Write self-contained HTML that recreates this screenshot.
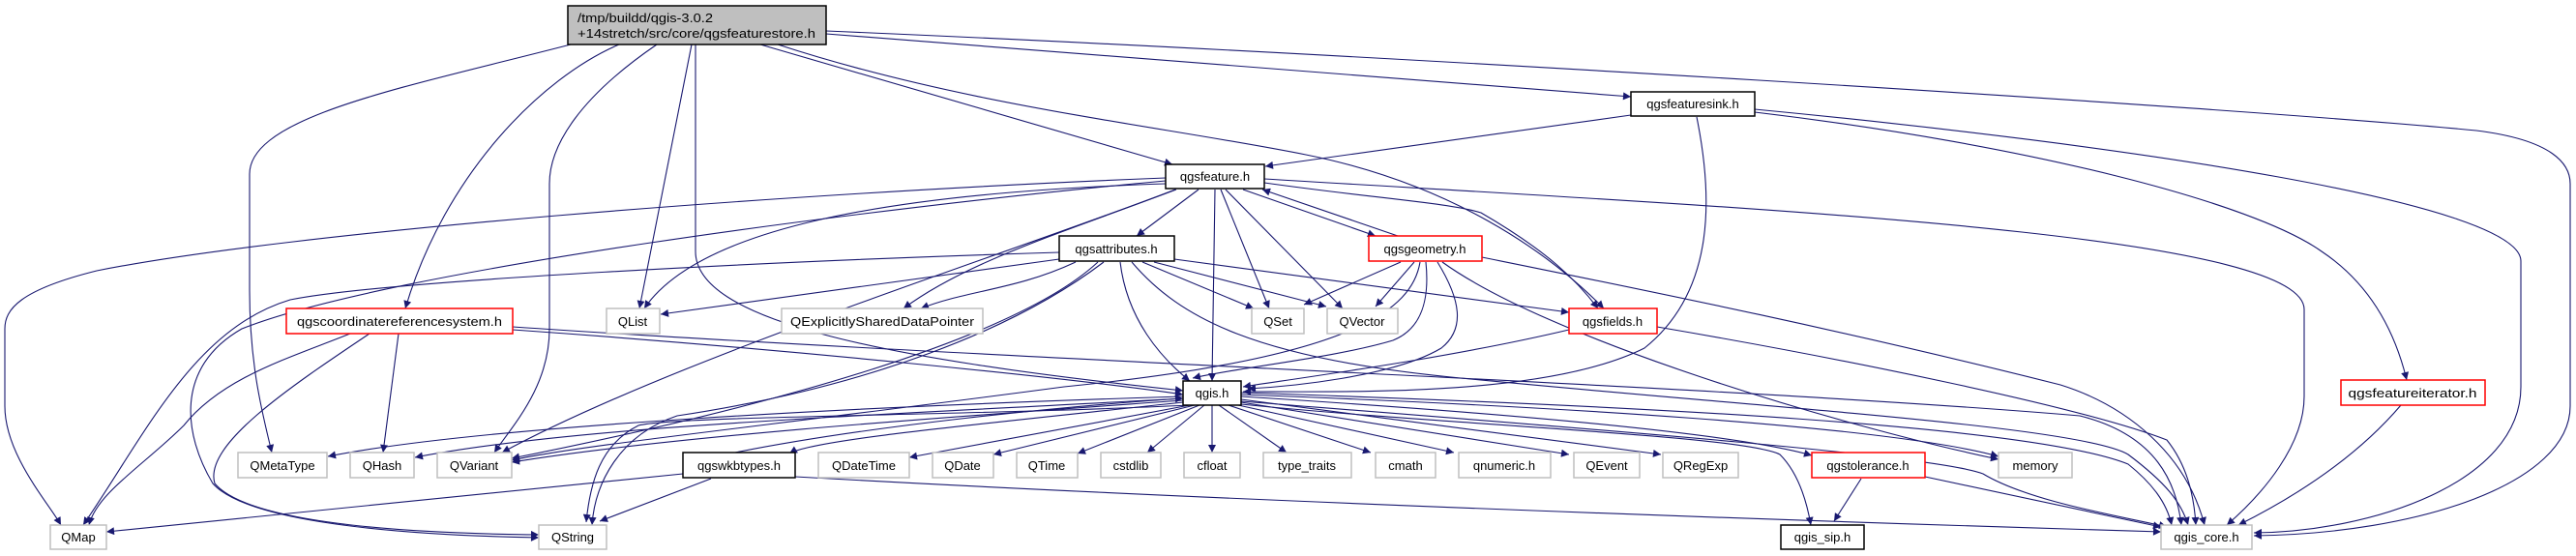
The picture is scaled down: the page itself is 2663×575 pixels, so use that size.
<!DOCTYPE html>
<html><head><meta charset="utf-8"><style>
html,body{margin:0;padding:0;background:#fff;}
svg{display:block;}
text{font-family:"Liberation Sans","DejaVu Sans",sans-serif;font-size:13px;fill:#000;}
.e{fill:none;stroke:#191970;stroke-width:1.1;marker-end:url(#a);}
.g{fill:#fff;stroke:#bfbfbf;stroke-width:1.5;}
.r{fill:#fff;stroke:#ff0000;stroke-width:1.5;}
.b{fill:#fff;stroke:#000;stroke-width:1.5;}
</style></head><body>
<svg width="2663" height="575" viewBox="0 0 2663 575" xmlns="http://www.w3.org/2000/svg">
<defs><marker id="a" viewBox="0 0 10 10" refX="10" refY="5" markerWidth="10" markerHeight="8" markerUnits="userSpaceOnUse" orient="auto"><path d="M0,0 L10,5 L0,10 z" fill="#191970"/></marker></defs>

<!-- root edges -->
<path class="e" d="M590,46 C420,90 258,120 258,180 L258,300 C258,380 272,430 281,468"/>
<path class="e" d="M640,46 C560,80 460,180 419,319"/>
<path class="e" d="M679,46 C600,100 568,150 568,190 L568,340 C568,400 530,440 511,468"/>
<path class="e" d="M715,46 L661,319"/>
<path class="e" d="M719,46 L719,260 C719,330 900,370 1223,404"/>
<path class="e" d="M786,46 L1212,170"/>
<path class="e" d="M804,46 C1000,110 1200,130 1350,160 C1500,190 1600,260 1658,319"/>
<path class="e" d="M854,35 L1686,100"/>
<path class="e" d="M854,32 C1400,55 2300,110 2560,135 C2640,145 2657,170 2657,190 L2657,420 C2657,500 2500,552 2330,554"/>

<!-- qgsfeaturesink -->
<path class="e" d="M1686,119 L1308,172"/>
<path class="e" d="M1754,121 C1770,200 1775,300 1700,360 C1600,410 1400,405 1285,405"/>
<path class="e" d="M1814,116 C2100,150 2330,210 2400,260 C2460,300 2480,360 2488,393"/>
<path class="e" d="M1814,113 C2200,150 2606,210 2606,270 L2606,400 C2606,500 2450,550 2330,551"/>

<!-- qgsfeature -->
<path class="e" d="M1205,184 C800,200 300,240 100,280 C20,300 5,320 5,340 L5,420 C5,470 50,520 63,543"/>
<path class="e" d="M1205,187 C900,215 400,280 250,340 C180,380 190,450 220,500 C260,545 450,554 557,556"/>
<path class="e" d="M1205,190 C900,200 720,240 666,319"/>
<path class="e" d="M1215,196 C1050,260 700,370 519,468"/>
<path class="e" d="M1216,196 C1100,240 1000,270 934,319"/>
<path class="e" d="M1239,196 L1175,244"/>
<path class="e" d="M1256,196 L1253,394"/>
<path class="e" d="M1262,196 L1312,319"/>
<path class="e" d="M1267,196 L1388,319"/>
<path class="e" d="M1285,196 L1422,244"/>
<path class="e" d="M1445,244 L1305,196"/>
<path class="e" d="M1307,189 C1420,205 1500,210 1531,220 C1600,260 1630,290 1652,319"/>
<path class="e" d="M1307,185 C1800,215 2382,240 2382,320 L2382,410 C2382,460 2340,510 2302,543"/>

<!-- qgsattributes -->
<path class="e" d="M1095,261 C800,270 400,290 300,310 C200,340 150,450 86,543"/>
<path class="e" d="M1095,268 L683,325"/>
<path class="e" d="M1112,271 C1050,300 1000,300 952,319"/>
<path class="e" d="M1141,271 C1050,340 900,400 700,430 C640,450 615,500 612,543"/>
<path class="e" d="M1135,271 C1050,350 800,420 529,474"/>
<path class="e" d="M1181,271 L1296,319"/>
<path class="e" d="M1193,271 L1371,317"/>
<path class="e" d="M1158,271 C1165,330 1200,370 1230,394"/>
<path class="e" d="M1214,268 L1622,323"/>
<path class="e" d="M1170,271 C1220,330 1300,370 1500,390 C1800,420 2150,440 2200,470 C2240,500 2255,520 2262,543"/>

<!-- qgsgeometry -->
<path class="e" d="M1448,271 L1348,315"/>
<path class="e" d="M1462,271 L1422,317"/>
<path class="e" d="M1474,271 C1478,310 1470,340 1440,352 C1380,370 1280,380 1233,391"/>
<path class="e" d="M1486,271 C1510,310 1515,340 1490,360 C1440,390 1330,400 1290,402"/>
<path class="e" d="M1468,271 C1460,320 1400,370 1100,400 C800,440 600,460 529,476"/>
<path class="e" d="M1491,271 C1600,350 1900,440 2066,475"/>
<path class="e" d="M1532,266 C1700,300 1900,340 2130,398 C2200,420 2260,470 2279,543"/>

<!-- qgsfields -->
<path class="e" d="M1622,341 C1500,370 1350,390 1285,400"/>
<path class="e" d="M1713,338 C1900,370 2150,420 2240,455 C2260,480 2268,510 2270,543"/>

<!-- qgscrs -->
<path class="e" d="M362,345 C300,370 230,390 190,440 C150,480 100,510 92,543"/>
<path class="e" d="M382,345 C300,400 210,460 222,500 C260,545 450,552 557,553"/>
<path class="e" d="M412,345 L396,468"/>
<path class="e" d="M530,341 C800,360 1100,390 1223,408"/>
<path class="e" d="M530,338 C1000,370 1800,400 2150,430 C2230,450 2250,500 2255,543"/>

<!-- qgis.h outgoing -->
<path class="e" d="M1223,410 C900,420 500,440 339,472"/>
<path class="e" d="M1223,412 C900,430 600,440 429,473"/>
<path class="e" d="M1223,414 C1000,430 700,450 529,478"/>
<path class="e" d="M1230,419 C1000,430 700,430 660,440 C620,460 610,500 606,540"/>
<path class="e" d="M1223,416 C1000,440 840,455 816,469"/>
<path class="e" d="M1230,419 L940,473"/>
<path class="e" d="M1235,419 L1027,470"/>
<path class="e" d="M1240,419 L1114,469"/>
<path class="e" d="M1245,419 L1186,468"/>
<path class="e" d="M1253,419 L1253,468"/>
<path class="e" d="M1260,419 L1330,468"/>
<path class="e" d="M1270,419 L1417,468"/>
<path class="e" d="M1280,419 L1503,468"/>
<path class="e" d="M1283,416 L1622,470"/>
<path class="e" d="M1283,413 L1717,470"/>
<path class="e" d="M1283,410 C1600,430 1800,450 1873,471"/>
<path class="e" d="M1283,408 C1600,420 1950,440 2066,472"/>
<path class="e" d="M1283,418 C1500,440 1800,450 1840,470 C1860,490 1868,520 1872,543"/>
<path class="e" d="M1283,406 C1700,420 2100,440 2200,480 C2225,500 2240,520 2245,543"/>
<path class="e" d="M1283,415 C1600,440 2000,470 2050,490 C2100,520 2200,535 2240,545"/>

<!-- qgswkbtypes -->
<path class="e" d="M760,468 C900,440 1100,420 1223,412"/>
<path class="e" d="M706,490 L110,550"/>
<path class="e" d="M735,495 L620,539"/>
<path class="e" d="M822,493 C1300,520 1900,540 2234,550"/>

<!-- qgstolerance / iterator -->
<path class="e" d="M1924,495 L1896,539"/>
<path class="e" d="M1990,493 L2234,545"/>
<path class="e" d="M2482,419 C2430,480 2360,520 2314,543"/>

<!-- nodes -->
<rect x="587" y="6" width="267" height="40" fill="#bfbfbf" stroke="#000" stroke-width="1.5"/>
<text x="597" y="23" textLength="140" lengthAdjust="spacingAndGlyphs">/tmp/buildd/qgis-3.0.2</text>
<text x="597" y="39" textLength="246" lengthAdjust="spacingAndGlyphs">+14stretch/src/core/qgsfeaturestore.h</text>

<rect class="b" x="1686" y="95" width="128" height="25"/><text x="1750" y="112" text-anchor="middle">qgsfeaturesink.h</text>
<rect class="b" x="1205" y="170" width="102" height="25"/><text x="1256" y="187" text-anchor="middle">qgsfeature.h</text>
<rect class="b" x="1095" y="244" width="119" height="26"/><text x="1154" y="262" text-anchor="middle">qgsattributes.h</text>
<rect class="r" x="1415" y="244" width="117" height="26"/><text x="1473" y="262" text-anchor="middle">qgsgeometry.h</text>

<rect class="r" x="296" y="319" width="234" height="26"/><text x="413" y="337" text-anchor="middle" textLength="212" lengthAdjust="spacingAndGlyphs">qgscoordinatereferencesystem.h</text>
<rect class="g" x="627" y="319" width="55" height="26"/><text x="654" y="337" text-anchor="middle">QList</text>
<rect class="g" x="808" y="319" width="208" height="26"/><text x="912" y="337" text-anchor="middle" textLength="190" lengthAdjust="spacingAndGlyphs">QExplicitlySharedDataPointer</text>
<rect class="g" x="1294" y="319" width="54" height="26"/><text x="1321" y="337" text-anchor="middle">QSet</text>
<rect class="g" x="1372" y="319" width="73" height="26"/><text x="1408" y="337" text-anchor="middle">QVector</text>
<rect class="r" x="1622" y="319" width="91" height="26"/><text x="1667" y="337" text-anchor="middle">qgsfields.h</text>

<rect class="b" x="1223" y="394" width="60" height="25"/><text x="1253" y="411" text-anchor="middle">qgis.h</text>
<rect class="r" x="2420" y="393" width="149" height="26"/><text x="2494" y="411" text-anchor="middle" textLength="133" lengthAdjust="spacingAndGlyphs">qgsfeatureiterator.h</text>

<rect class="g" x="246" y="468" width="92" height="26"/><text x="292" y="486" text-anchor="middle">QMetaType</text>
<rect class="g" x="362" y="468" width="66" height="26"/><text x="395" y="486" text-anchor="middle">QHash</text>
<rect class="g" x="452" y="468" width="77" height="26"/><text x="490" y="486" text-anchor="middle">QVariant</text>
<rect class="b" x="706" y="468" width="116" height="26"/><text x="764" y="486" text-anchor="middle">qgswkbtypes.h</text>
<rect class="g" x="846" y="468" width="94" height="26"/><text x="893" y="486" text-anchor="middle">QDateTime</text>
<rect class="g" x="964" y="468" width="63" height="26"/><text x="995" y="486" text-anchor="middle">QDate</text>
<rect class="g" x="1051" y="468" width="63" height="26"/><text x="1082" y="486" text-anchor="middle">QTime</text>
<rect class="g" x="1138" y="468" width="62" height="26"/><text x="1169" y="486" text-anchor="middle">cstdlib</text>
<rect class="g" x="1224" y="468" width="58" height="26"/><text x="1253" y="486" text-anchor="middle">cfloat</text>
<rect class="g" x="1306" y="468" width="91" height="26"/><text x="1351" y="486" text-anchor="middle">type_traits</text>
<rect class="g" x="1422" y="468" width="62" height="26"/><text x="1453" y="486" text-anchor="middle">cmath</text>
<rect class="g" x="1508" y="468" width="95" height="26"/><text x="1555" y="486" text-anchor="middle">qnumeric.h</text>
<rect class="g" x="1627" y="468" width="68" height="26"/><text x="1661" y="486" text-anchor="middle">QEvent</text>
<rect class="g" x="1719" y="468" width="78" height="26"/><text x="1758" y="486" text-anchor="middle">QRegExp</text>
<rect class="r" x="1873" y="468" width="117" height="26"/><text x="1931" y="486" text-anchor="middle">qgstolerance.h</text>
<rect class="g" x="2066" y="468" width="76" height="26"/><text x="2104" y="486" text-anchor="middle">memory</text>

<rect class="g" x="52" y="543" width="58" height="25"/><text x="81" y="560" text-anchor="middle">QMap</text>
<rect class="g" x="557" y="543" width="70" height="25"/><text x="592" y="560" text-anchor="middle">QString</text>
<rect class="b" x="1841" y="543" width="86" height="25"/><text x="1884" y="560" text-anchor="middle">qgis_sip.h</text>
<rect class="g" x="2234" y="543" width="94" height="25"/><text x="2281" y="560" text-anchor="middle">qgis_core.h</text>
</svg>
</body></html>
